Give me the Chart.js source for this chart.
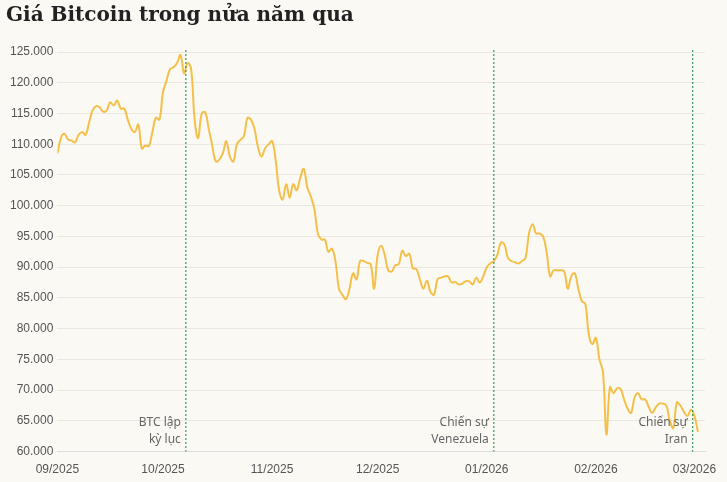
<!DOCTYPE html>
<html><head><meta charset="utf-8">
<script src="https://cdn.jsdelivr.net/npm/chart.js@4"></script>
<style>html,body{margin:0;background:#fbf9f4;}#w{width:727px;height:482px;}</style>
</head><body><div id="w"><canvas id="c"></canvas></div>
<script>
const prices = [108500,111000,111700,110800,110600,110300,111500,112000,111500,113500,115500,116200,116000,115300,115500,116800,116300,117100,115800,115800,114000,112500,112000,113200,109300,109800,109700,112000,114300,114000,
118500,120300,122200,122500,123200,124500,121500,123200,122200,114000,111000,115000,115200,112500,109800,107200,107500,108500,110500,108000,107200,110000,110700,111300,114300,114000,112500,109500,108000,109300,110000,
110500,107500,102500,101000,103500,101300,103500,102500,104500,106000,103000,101500,99500,95500,94500,94500,92500,93000,91000,86500,85500,84800,86500,89000,88000,91000,91000,90700,90500,86500,
92000,93500,92000,89500,89300,90300,90500,92700,91800,92200,89800,89700,88000,86500,87800,86000,85500,88000,88300,88500,88500,87500,87600,87200,87300,87700,87700,87200,88300,87500,88500,
90000,90600,91000,92000,94000,93700,91500,91000,90800,90600,91000,91500,95500,97000,95500,95500,95000,92500,88500,89500,89500,89500,89300,86500,88500,89000,86500,84500,84000,79000,77500,
78500,75000,73000,62800,70500,69500,70300,70200,68500,67000,66300,68800,69500,68500,68500,67300,66300,67200,67800,67800,67500,65000,63800,68000,67500,66500,65800,66800,
65800,63200];
const monthTicks = [0,30,61,91,122,153,181];
const monthLabels = ["09/2025","10/2025","11/2025","12/2025","01/2026","02/2026","03/2026"];
const events = [{d:36.5,lines:["BTC lập","kỳ lục"]},{d:124,lines:["Chiến sự","Venezuela"]},{d:180.5,lines:["Chiến sự","Iran"]}];
const pts = prices.map((v,i)=>({x:i,y:v}));
const evPlugin={id:'ev',afterDatasetsDraw(ch){const {ctx,scales:{x,y},chartArea:a}=ch;ctx.save();
 events.forEach(e=>{const px=x.getPixelForValue(e.d);ctx.strokeStyle='#2e9a5a';ctx.lineWidth=1.2;ctx.setLineDash([2,2]);
 ctx.beginPath();ctx.moveTo(px,a.top-2);ctx.lineTo(px,a.bottom);ctx.stroke();ctx.setLineDash([]);
 ctx.fillStyle='#666';ctx.font='12px "Source Sans Pro","Noto Sans",sans-serif';ctx.textAlign='right';ctx.textBaseline='alphabetic';
 ctx.fillText(e.lines[0],px-5,a.bottom-26);ctx.fillText(e.lines[1],px-5,a.bottom-9);});ctx.restore();}};
new Chart(document.getElementById('c'),{type:'line',
 data:{datasets:[{data:pts,borderColor:'#f4c04a',borderWidth:2,pointRadius:0,tension:0.4,fill:false}]},
 options:{responsive:true,maintainAspectRatio:false,animation:false,
  layout:{padding:{left:6,right:22,top:0,bottom:2}},
  plugins:{legend:{display:false},tooltip:{enabled:false},
   title:{display:true,text:'Giá Bitcoin trong nửa năm qua',align:'start',color:'#222',font:{family:'"DejaVu Serif",serif',size:20,weight:'bold'},padding:{top:4,bottom:24}}},
  scales:{
   x:{type:'linear',min:0,max:184,afterBuildTicks(s){s.ticks=monthTicks.map(v=>({value:v}));},
    ticks:{autoSkip:false,maxRotation:0,color:'#555',font:{size:12},callback:(v)=>monthLabels[monthTicks.indexOf(v)]},
    grid:{display:false,drawTicks:true},border:{color:'#ddd'}},
   y:{min:60000,max:125000,afterBuildTicks(s){const t=[];for(let v=60000;v<=125000;v+=5000)t.push({value:v});s.ticks=t;},
    ticks:{color:'#555',font:{size:12},padding:4,callback:v=>v.toLocaleString('de-DE')},
    grid:{color:'#ebe8e0',drawTicks:false},border:{display:false}}}},
 plugins:[evPlugin]});
</script></body></html>
